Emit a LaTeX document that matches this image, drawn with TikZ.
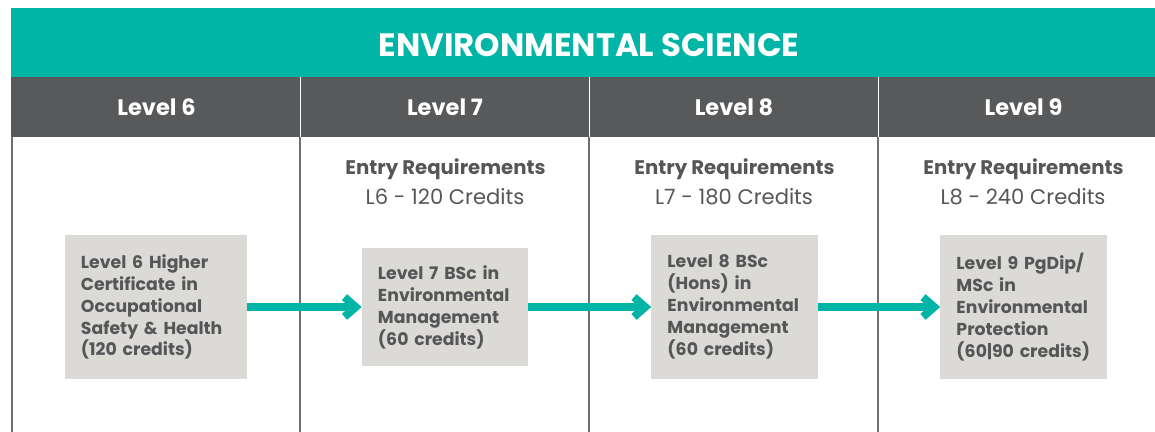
\documentclass[tikz,border=0pt]{standalone}
\usepackage{fontspec}
\setmainfont{Poppins}
\usepackage{tikz}
\usetikzlibrary{arrows.meta}
\definecolor{envteal}{RGB}{0,180,166}
\definecolor{bandgrey}{RGB}{88,89,91}
\definecolor{boxgrey}{RGB}{220,218,214}
\definecolor{inkgrey}{RGB}{85,86,88}
\definecolor{rulegrey}{RGB}{110,111,113}
\tikzset{
  course/.style={fill=boxgrey, text=inkgrey, font=\bfseries\fontsize{12.3}{15.6}\selectfont,
    align=left, inner xsep=0.4cm, inner ysep=0pt},
  flow/.style={draw=envteal, line width=5.6pt, -{Straight Barb[length=8pt,width=14pt]}},
  levelhead/.style={text=white, font=\bfseries\fontsize{16}{18}\selectfont},
  entryhead/.style={anchor=base, text=inkgrey, font=\bfseries\fontsize{14}{16}\selectfont},
  entrycred/.style={anchor=base, text=inkgrey, font=\fontsize{15}{17}\selectfont}
}

\begin{document}
\begin{tikzpicture}[x=0.025cm, y=-0.025cm]   % study pathway
    \useasboundingbox (0,0) rectangle (1155,432);
    \fill[envteal] (11,8) rectangle (1155,77);
    \fill[bandgrey] (11,77) rectangle (1155,137);
    \node[text=white, font=\bfseries\fontsize{23}{26}\selectfont] at (589,45) (title) {ENVIRONMENTAL SCIENCE};

    % column rules
    \draw[rulegrey, line width=1pt] (12,137) -- (12,432);
    \foreach \x in {300,589,878} {
      \draw[white, line width=0.7pt] (\x,77) -- (\x,137);
      \draw[rulegrey, line width=1pt] (\x,137) -- (\x,432);
    }

    \node[levelhead] at (156.5,107) (L6) {Level 6};
    \node[levelhead] at (445,107) (L7) {Level 7};
    \node[levelhead] at (734,107) (L8) {Level 8};
    \node[levelhead] at (1023.5,107) (L9) {Level 9};

    \node[entryhead] at (445.5,175) (req7) {Entry Requirements};
    \node[entrycred] at (445,205) (cred7) {L6 - 120 Credits};
    \node[entryhead] at (734.5,175) (req8) {Entry Requirements};
    \node[entrycred] at (734,205) (cred8) {L7 - 180 Credits};
    \node[entryhead] at (1023.5,175) (req9) {Entry Requirements};
    \node[entrycred] at (1023,205) (cred9) {L8 - 240 Credits};

    \node[course, text width=3.75cm, minimum height=3.575cm] at (156,307) (p6)
      {Level 6 Higher\\Certificate in\\Occupational\\Safety \& Health\\(120 credits)};
    \node[course, text width=3.35cm, minimum height=2.925cm] at (445,307) (p7)
      {Level 7 BSc in\\Environmental\\Management\\(60 credits)};
    \node[course, text width=3.35cm, minimum height=3.575cm] at (734.5,307) (p8)
      {Level 8 BSc\\(Hons) in\\Environmental\\Management\\(60 credits)};
    \node[course, text width=3.35cm, minimum height=3.575cm] at (1023.5,307) (p9)
      {Level 9 PgDip/\\MSc in\\Environmental\\Protection\\(60|90 credits)};

    \draw (p6) edge[flow] (p7);
    \draw (p7) edge[flow] (p8);
    \draw (p8) edge[flow] (p9);
\end{tikzpicture}
\end{document}
